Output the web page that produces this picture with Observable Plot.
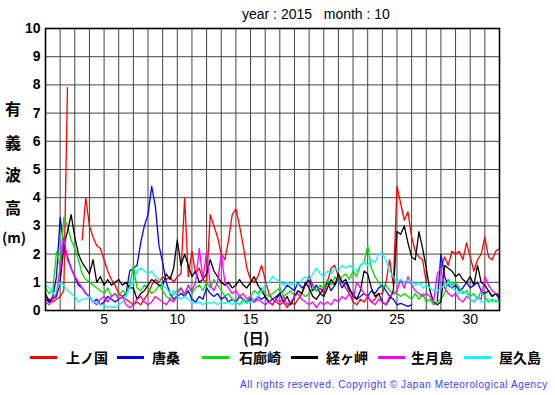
<!DOCTYPE html>
<html><head><meta charset="utf-8">
<script src="https://cdn.jsdelivr.net/npm/d3@7"></script>
<script src="https://cdn.jsdelivr.net/npm/@observablehq/plot@0.6"></script>
<style>
body{margin:0;background:#fff;}
#wrap{position:relative;width:555px;height:395px;overflow:hidden;font-family:"Liberation Sans",Arial,sans-serif;color:#000;}
#chart{position:absolute;left:0;top:0;}
.t{position:absolute;white-space:pre;line-height:1;}
.yl{position:absolute;font-family:"Noto Sans CJK JP",sans-serif;font-weight:bold;font-size:16px;line-height:1;}
.lg{position:absolute;font-family:"Noto Sans CJK JP",sans-serif;font-weight:bold;font-size:14px;line-height:1;}
.sw{position:absolute;height:3px;width:27px;}
</style></head>
<body>
<div id="wrap">
  <div id="chart"></div>
</div>
<script>
// Time axis: Oct 1 .. Nov 1 (day numbers), sampled every 6 hours
const dayTicks = [5, 10, 15, 20, 25, 30];
const yTicks = [0,1,2,3,4,5,6,7,8,9,10];
const gridDays = d3.range(1, 33);
const stations = ["上ノ国", "唐桑", "石廊崎", "経ヶ岬", "生月島", "屋久島"];
const colors = ["#ff0000", "#0000ff", "#00e000", "#000000", "#ff00ff", "#00ffff"];

const kaminokuni = [
0.5,0.4,0.3,0.4, 0.5,0.7,7.9,null, null,null,2.5,4.0, 3.0,2.6,2.3,2.2, 1.8,1.4,1.1,0.9,
0.6,0.5,0.4,0.3, 0.2,0.3,0.2,0.4, 0.6,0.9,1.1,1.0, 1.2,1.1,1.2,1.0, 1.2,1.3,4.0,1.2,
2.1,1.3,1.5,1.1, 1.0,3.4,3.0,2.6, 2.0,1.8,2.5,3.4, 3.6,3.0,2.3,1.5, 1.1,1.0,1.2,1.6,
1.1,0.6,0.4,0.3, 0.2,0.3,0.1,0.3, 0.2,0.4,0.6,0.9, 1.2,0.9,0.7,0.8, 0.6,1.0,1.5,1.6,
1.2,1.0,0.8,0.6, 0.3,0.2,0.4,0.3, 0.5,0.3,0.4,0.6, 0.6,1.0,1.8,0.9, 4.4,3.8,3.2,3.5,
2.6,2.1,1.9,1.8, 1.0,null,null,null, 1.5,1.9,1.6,2.1, 2.0,2.1,1.8,2.4, 1.9,1.4,1.8,2.0,
2.6,1.9,1.8,2.1, 2.2];
const karakuwa = [
0.4,0.3,0.5,1.2, 3.3,2.3,1.9,1.5, 1.2,0.9,0.8,0.6, 0.5,0.3,0.4,0.2, 0.3,0.5,0.4,0.3,
0.4,0.5,0.6,1.4, 1.5,1.6,2.4,3.0, 3.4,4.4,3.7,2.3, 1.7,1.0,0.6,0.4, 0.5,0.6,0.5,0.7,
0.4,0.3,0.5,0.4, 0.8,0.6,0.5,0.6, 0.4,0.5,0.3,0.4, 0.3,0.5,0.4,0.3, 0.4,0.3,0.5,0.4,
0.5,0.3,0.4,0.5, 0.6,0.7,0.9,0.8, 0.7,1.0,0.8,0.9, 1.1,0.7,0.9,0.6, 0.8,1.0,0.7,0.9,
1.1,0.8,1.0,0.7, 0.6,0.4,0.5,0.6, 0.5,0.7,0.6,0.8, 0.9,0.7,0.5,0.4, 0.2,0.25,0.2,0.15,
0.2,null,null,null, null,null,null,0.3, 2.0,1.2,0.9,0.8, 0.9,0.7,0.8,1.0, 0.8,0.9,1.0,0.7,
0.6,0.7,0.5,0.6, 0.5];
const irouzaki = [
0.8,0.6,0.7,2.1, 1.5,3.3,3.0,2.5, 2.2,1.8,1.3,1.1, 1.0,0.9,0.8,0.7, 0.6,0.8,0.5,0.6,
0.5,0.7,0.6,0.9, 1.6,0.8,0.7,0.9, 0.8,0.6,0.7,0.9, 0.7,0.5,0.4,0.6, 0.7,0.8,0.6,0.9,
0.6,0.8,0.9,0.7, 1.0,0.8,1.1,0.9, 0.7,0.5,0.6,0.4, 0.3,0.2,0.4,0.3, 0.5,0.7,0.6,0.8,
0.6,0.5,0.6,0.7, 0.8,0.5,0.6,0.7, 0.5,0.7,0.6,0.5, 0.6,0.8,0.7,0.9, 0.8,1.1,0.9,1.2,
1.0,1.2,1.3,1.1, 1.4,1.2,1.6,1.7, 2.3,1.5,1.2,1.0, 0.8,0.9,0.7,0.6, 0.6,0.5,0.6,0.5,
0.4,0.6,0.4,0.6, 0.3,0.4,0.2,0.3, 0.4,0.6,1.1,0.9, 1.0,0.8,0.6,0.7, 0.5,0.6,0.4,0.7,
0.5,0.3,0.4,0.3, 0.4];
const kyougamisaki = [
0.6,0.3,0.4,0.5, 1.0,2.3,2.8,3.4, 2.6,2.0,1.7,1.5, 1.3,1.8,1.0,1.2, 0.9,1.1,0.9,1.0,
1.1,0.9,1.0,0.8, 0.8,0.4,0.6,0.7, 0.9,1.1,1.0,0.9, 0.9,1.3,1.1,1.5, 2.5,1.6,2.0,1.6,
1.2,1.4,1.0,1.1, 1.3,1.8,1.4,1.2, 1.0,0.9,1.0,0.8, 0.9,1.1,0.9,0.8, 1.0,1.2,0.9,0.7,
0.5,0.3,0.2,0.4, 0.6,0.3,0.5,0.2, 0.5,0.7,0.6,1.0, 0.8,0.5,0.4,0.6, 0.5,0.8,1.1,0.9,
1.3,1.0,1.1,0.8, 0.5,0.4,0.7,1.4, 1.3,0.8,0.5,0.6, 0.3,0.2,0.4,0.7, 2.8,2.7,3.0,2.4,
1.9,1.8,2.8,2.2, 1.5,0.7,0.3,0.2, 0.3,1.6,1.5,1.4, 1.2,1.3,1.1,1.0, 1.2,0.9,1.6,1.0,
0.9,0.7,0.5,0.6, 0.4];
const ikitsukishima = [
0.3,0.2,0.4,0.6, 1.5,2.6,1.8,1.5, 1.2,1.0,0.8,0.6, 0.5,0.3,0.2,0.4, 0.5,0.3,0.5,0.6,
0.4,0.5,0.2,0.1, 0.2,0.4,0.5,0.3, 0.2,0.3,0.5,0.4, 0.3,0.2,0.4,0.3, 0.6,0.8,0.5,0.9,
0.7,1.0,2.2,1.1, 2.1,0.9,0.7,1.0, 2.0,1.0,0.8,0.6, 0.7,0.5,0.6,0.4, 0.5,0.3,0.4,0.3,
0.2,0.3,0.2,0.4, 0.3,0.5,0.2,0.3, 0.5,0.6,0.4,0.3, 0.2,0.3,0.1,0.3, 0.2,0.3,0.2,0.4,
0.3,0.5,0.4,0.6, 0.4,1.0,0.8,0.6, 0.5,0.3,0.2,0.4, 0.3,0.2,0.5,0.6, 0.7,1.1,0.8,1.2,
0.9,0.7,0.6,0.5, 0.6,0.5,0.3,1.3, 1.5,0.8,0.6,0.5, 0.6,0.4,0.3,0.5, 0.4,0.3,0.5,0.4,
1.2,0.9,0.7,0.6, 0.6];
const yakushima = [
0.9,0.8,0.6,0.7, 1.0,0.9,0.7,0.6, 0.5,0.3,0.4,0.4, 0.5,0.3,0.3,0.2, 0.2,0.1,0.15,0.1,
0.2,0.3,0.5,0.8, 1.0,1.4,1.5,1.4, 1.3,1.4,1.2,1.1, 0.9,0.8,0.6,0.7, 0.5,0.4,0.5,0.4,
0.3,0.25,0.3,0.2, 0.3,0.25,0.3,0.2, 0.3,0.25,0.3,0.2, 0.3,0.2,0.3,0.25, 0.3,0.4,0.5,0.7,
0.9,1.0,1.2,1.1, 1.0,0.9,1.0,0.9, 1.0,0.9,1.1,1.2, 1.1,1.3,1.5,1.3, 1.2,1.4,1.3,1.5,
1.4,1.6,1.5,1.6, 1.5,1.4,1.6,1.7, 1.6,1.8,1.7,2.0, 2.0,1.8,1.4,1.2, 1.0,1.1,1.0,1.1,
1.0,0.9,1.0,0.8, 0.9,0.8,0.7,0.7, 0.8,0.9,1.0,0.8, 0.7,0.6,0.7,0.6, 0.4,0.3,0.5,0.3,
0.3,0.4,0.3,0.4, 0.3];

const series = [kaminokuni, karakuwa, irouzaki, kyougamisaki, ikitsukishima, yakushima];
const times = kaminokuni.map((_, i) => 1 + i / 4);

const rows = [];
series.forEach((vals, s) => vals.forEach((v, i) => rows.push({t: times[i], v: v == null ? NaN : v, s: stations[s]})));

const lineMarks = stations.map((name, s) =>
  Plot.line(rows.filter(r => r.s === name), {x: "t", y: "v", stroke: colors[s], strokeWidth: 1.3, curve: "linear"})
);

const chart = Plot.plot({
  width: 555,
  height: 350,
  marginLeft: 45,
  marginRight: 56,
  marginTop: 28,
  marginBottom: 40,
  style: {fontFamily: "'Liberation Sans', Arial, sans-serif", fontSize: "14px", color: "#000", background: "transparent"},
  x: {domain: [1, 32]},
  y: {domain: [0, 10]},
  marks: [
    Plot.gridX(gridDays, {stroke: "#444", strokeOpacity: 1, strokeWidth: 1}),
    Plot.gridY(yTicks, {stroke: "#444", strokeOpacity: 1, strokeWidth: 1}),
    ...lineMarks,
    Plot.frame({stroke: "#000", strokeWidth: 1.6}),
    Plot.axisX(dayTicks, {tickSize: 0, tickPadding: 4, label: null, fontSize: 14}),
    Plot.axisY(yTicks, {tickSize: 0, tickPadding: 5, label: null, fontWeight: "bold", fontSize: 14})
  ]
});
document.getElementById("chart").appendChild(chart);

const wrap = document.getElementById("wrap");
function addText(cls, txt, left, top, extra) {
  const d = document.createElement("div");
  d.className = cls;
  d.textContent = txt;
  d.style.left = left + "px";
  d.style.top = top + "px";
  if (extra) Object.assign(d.style, extra);
  wrap.appendChild(d);
  return d;
}
addText("t", "year : 2015   month : 10", 242, 7, {fontSize: "14px"});
const ychars = ["有", "義", "波", "高"];
const ytops = [100, 134, 166, 199];
ychars.forEach((c, i) => addText("yl", c, 5, ytops[i]));
addText("yl", "(m)", 2, 230, {fontSize: "14px"});
addText("yl", "(日)", 243, 330, {fontSize: "15px"});

const swLeft = [30, 117, 202, 291, 378, 464];
const lbLeft = [66, 152, 239, 326, 411, 499];
stations.forEach((name, i) => {
  const sw = document.createElement("div");
  sw.className = "sw";
  sw.style.left = swLeft[i] + "px";
  sw.style.top = "356px";
  sw.style.background = colors[i];
  wrap.appendChild(sw);
  addText("lg", name, lbLeft[i], 350);
});
const copy = addText("t", "All rights reserved. Copyright © Japan Meteorological Agency", 240, 380, {fontSize: "10px", color: "#3b3bff", letterSpacing: "0px"});
const cw = copy.getBoundingClientRect().width;
const nch = copy.textContent.length;
copy.style.letterSpacing = Math.max(0, (308 - cw) / nch).toFixed(2) + "px";
</script>
</body></html>
